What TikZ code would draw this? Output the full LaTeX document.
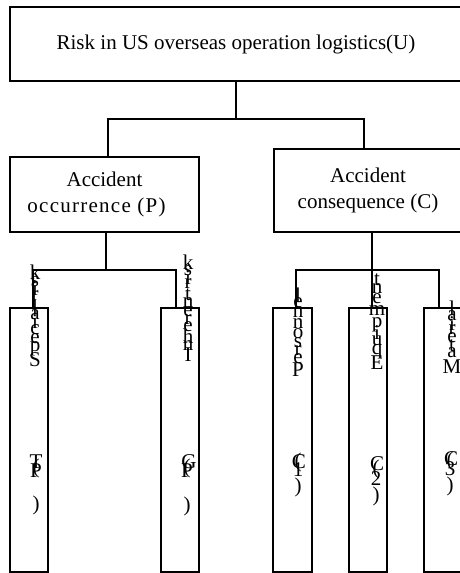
\documentclass[tikz,border=0pt]{standalone}
\usepackage{fontspec}
\setmainfont{Liberation Serif}
\def\stkf{1}
\newcommand\vc[1]{\setbox0=\hbox{#1}\dimen0=\stkf\wd0 \vbox to\dimen0{\vss\hbox to 0pt{\hss#1\hss}\vss}}
\begin{document}
\begin{tikzpicture}[x=1pt,y=-1pt,
  rbox/.style={draw, line width=1.3pt, inner sep=0, align=center, font=\fontsize{21}{26}\selectfont},
  conn/.style={draw, line width=1.3pt},
  stk/.style={inner sep=0, anchor=north, font=\fontsize{21}{21}\selectfont},
  pc/.style={inner sep=0, anchor=base, font=\fontsize{21}{21}\selectfont}]
\useasboundingbox (0,0) rectangle (460,573);
% boxes
\node[rbox, minimum width=452pt, minimum height=74pt] (U) at (236,44) {Risk in US overseas operation logistics(U)};
\node[rbox, minimum width=189pt, minimum height=75pt] (P) at (104.5,194.5) {Accident\\\hspace*{-16pt}{\addfontfeature{LetterSpace=6}occurrence (P)}};
\node[rbox, minimum width=188pt, minimum height=83pt] (C) at (368,190.5) {Accident\\consequence (C)};
\node[rbox, minimum width=38pt, minimum height=264pt] (B1) at (29,440) {};
\node[rbox, minimum width=38pt, minimum height=264pt] (B2) at (180,440) {};
\node[rbox, minimum width=39pt, minimum height=264pt] (C1) at (292.5,440) {};
\node[rbox, minimum width=38pt, minimum height=264pt] (C2) at (368,440) {};
\node[rbox, minimum width=46pt, minimum height=264pt] (C3) at (447,440) {};
% connectors
\coordinate (j0) at (236,119);
\draw[conn] (U.south -| j0) -- (j0);
\draw[conn] ([xshift=3.5pt]P.north) |- (j0) -| ([xshift=-4pt]C.north);
\coordinate (j1) at (106,270);
\draw[conn] (P.south -| j1) -- (j1);
\draw[conn] ([xshift=4pt]B1.north) |- (j1) -| ([xshift=-4pt]B2.north);
\coordinate (j2) at (372,270);
\draw[conn] (C.south -| j2) -- (j2);
\draw[conn] ([xshift=3.5pt]C1.north) |- (j2) -| ([xshift=-8pt]C3.north);
\draw[conn] (j2) -- (C2.north -| j2);
% stacked letters
\node[stk] (s1) at (35,267) {\vbox{\offinterlineskip\vc{k}\vc{s}\vc{i}\vc{r}\vc{\ }\vc{l}\vc{a}\vc{i}\vc{c}\vc{e}\vc{p}\vc{S}}};
\node[stk] (s2) at (188,257) {\def\stkf{0.94}\vbox{\offinterlineskip\vc{k}\vc{s}\vc{i}\vc{r}\vc{\ }\vc{t}\vc{n}\vc{e}\vc{r}\vc{e}\vc{h}\vc{n}\vc{I}}};
\node[stk] (s3) at (298,292) {\vbox{\offinterlineskip\vc{l}\vc{e}\vc{n}\vc{n}\vc{o}\vc{s}\vc{r}\vc{e}\vc{P}}};
\node[stk] (s4) at (377,277) {\vbox{\offinterlineskip\vc{t}\vc{n}\vc{e}\vc{m}\vc{p}\vc{i}\vc{u}\vc{q}\vc{E}}};
\node[stk] (s5) at (452,305) {\vbox{\offinterlineskip\vc{l}\vc{a}\vc{i}\vc{r}\vc{e}\vc{t}\vc{a}\vc{M}}};
% parenthetical codes
\node[pc] (t1a) at (36,468) {T};
\node[pc] (t1b) at (36,473) {(};
\node[pc] (t1c) at (36,477) {P};
\node[pc] (t1d) at (36,510) {)};
\node[pc] (t2a) at (189,468) {G};
\node[pc] (t2b) at (187,473) {(};
\node[pc] (t2c) at (187,477) {P};
\node[pc] (t2d) at (187,511) {)};
\node[pc] (t3a) at (298,467) {(};
\node[pc] (t3b) at (299,468) {C};
\node[pc] (t3c) at (298,476) {1};
\node[pc] (t3d) at (298,492) {)};
\node[pc] (t4a) at (376,474) {(};
\node[pc] (t4b) at (377,470) {C};
\node[pc] (t4c) at (376,485) {2};
\node[pc] (t4d) at (376,501) {)};
\node[pc] (t5a) at (450,466) {(};
\node[pc] (t5b) at (451,465) {C};
\node[pc] (t5c) at (450,475) {3};
\node[pc] (t5d) at (450,491) {)};
\end{tikzpicture}
\end{document}
